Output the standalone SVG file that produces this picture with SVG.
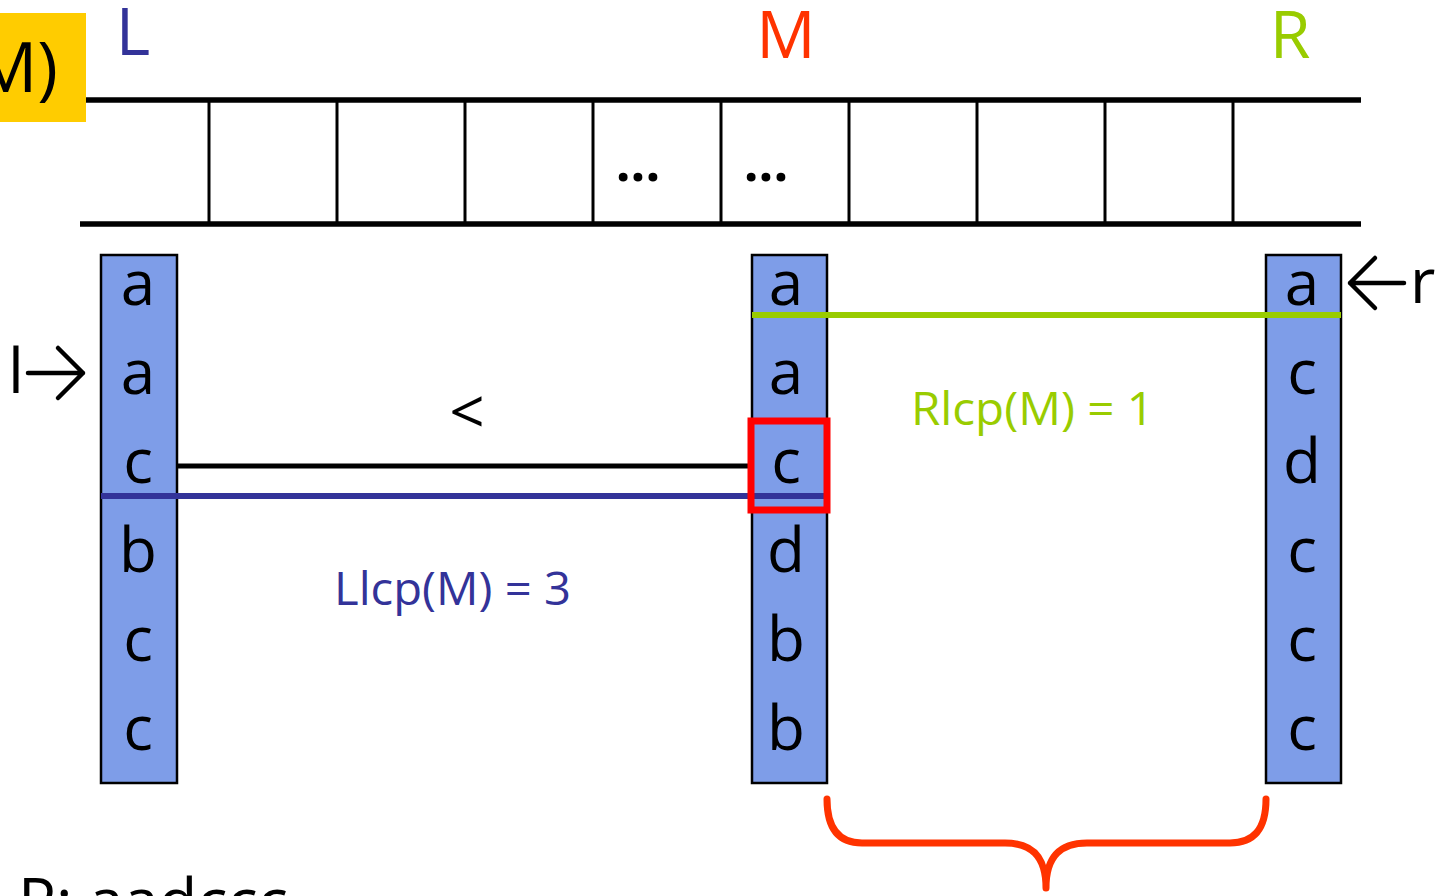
<svg xmlns="http://www.w3.org/2000/svg" width="1441" height="896" viewBox="0 0 1441 896">
<style>
text{font-family:"Open Sans","Noto Sans","Liberation Sans",sans-serif;}
.col{fill:#7E9DE8;stroke:#000;stroke-width:2.5;}
.ch{font-size:62px;fill:#000;text-anchor:middle;}
.grid{stroke:#000;stroke-width:3;}
.hl{stroke:#000;stroke-width:5.5;}
.dots{font-size:52px;font-weight:bold;text-anchor:middle;fill:#000;}
</style>
<rect x="0" y="13" width="86" height="109" fill="#FFCC00"/>
<text x="58" y="92" font-size="70" text-anchor="end" fill="#000">M)</text>
<text x="133" y="55" font-size="66" text-anchor="middle" fill="#333399">L</text>
<text x="786" y="58" font-size="66" text-anchor="middle" fill="#FF3300">M</text>
<text x="1290" y="58" font-size="66" text-anchor="middle" fill="#99CC00">R</text>
<g id="array">
<line class="hl" x1="86" y1="100" x2="1361" y2="100"/>
<line class="hl" x1="80" y1="224" x2="1361" y2="224"/>
<line class="grid" x1="209" y1="100" x2="209" y2="224"/>
<line class="grid" x1="337" y1="100" x2="337" y2="224"/>
<line class="grid" x1="465" y1="100" x2="465" y2="224"/>
<line class="grid" x1="593" y1="100" x2="593" y2="224"/>
<line class="grid" x1="721" y1="100" x2="721" y2="224"/>
<line class="grid" x1="849" y1="100" x2="849" y2="224"/>
<line class="grid" x1="977" y1="100" x2="977" y2="224"/>
<line class="grid" x1="1105" y1="100" x2="1105" y2="224"/>
<line class="grid" x1="1233" y1="100" x2="1233" y2="224"/>
<text class="dots" x="638" y="181">...</text>
<text class="dots" x="766" y="181">...</text>
</g>
<g id="colL">
<rect class="col" x="101" y="255" width="76" height="528"/>
<text class="ch" x="138" y="305">a</text>
<text class="ch" x="138" y="394">a</text>
<text class="ch" x="138" y="483">c</text>
<text class="ch" x="138" y="572">b</text>
<text class="ch" x="138" y="661">c</text>
<text class="ch" x="138" y="750">c</text>
</g>
<g id="colM">
<rect class="col" x="752" y="255" width="75" height="528"/>
<text class="ch" x="786" y="305">a</text>
<text class="ch" x="786" y="394">a</text>
<text class="ch" x="786" y="483">c</text>
<text class="ch" x="786" y="572">d</text>
<text class="ch" x="786" y="661">b</text>
<text class="ch" x="786" y="750">b</text>
</g>
<g id="colR">
<rect class="col" x="1266" y="255" width="75" height="528"/>
<text class="ch" x="1302" y="305">a</text>
<text class="ch" x="1302" y="394">c</text>
<text class="ch" x="1302" y="483">d</text>
<text class="ch" x="1302" y="572">c</text>
<text class="ch" x="1302" y="661">c</text>
<text class="ch" x="1302" y="750">c</text>
</g>
<g id="connectors" fill="none" stroke-linecap="butt">
<line x1="752" y1="315" x2="1341" y2="315" stroke="#99CC00" stroke-width="6"/>
<line x1="177" y1="466" x2="752" y2="466" stroke="#000" stroke-width="5"/>
<line x1="101" y1="496" x2="827" y2="496" stroke="#333399" stroke-width="6"/>
<rect x="751" y="421" width="76" height="89" stroke="#FF0000" stroke-width="7"/>
<path d="M28,373 H83 M58,348 L83,373 L58,398" stroke="#000" stroke-width="4.5" stroke-linecap="round" stroke-linejoin="round"/>
<path d="M1350,283 H1404 M1375,258 L1350,283 L1375,308" stroke="#000" stroke-width="4.5" stroke-linecap="round" stroke-linejoin="round"/>
<path d="M827,799 C827,830 840,843 862,843 L1005,843 C1030,843 1046,855 1046,888 C1046,855 1062,843 1087,843 L1230,843 C1253,843 1266,830 1266,799" stroke="#FF3300" stroke-width="7" stroke-linecap="round" stroke-linejoin="round"/>
</g>
<text x="467" y="434" font-size="62" text-anchor="middle" fill="#000">&lt;</text>
<text x="911" y="425" font-size="46" fill="#99CC00" textLength="243" lengthAdjust="spacingAndGlyphs">Rlcp(M) = 1</text>
<text x="334" y="605" font-size="46" fill="#333399" textLength="237" lengthAdjust="spacingAndGlyphs">Llcp(M) = 3</text>
<text x="8" y="393" font-size="63" fill="#000">l</text>
<text x="1410" y="303" font-size="62" fill="#000">r</text>
<text x="18" y="923" font-size="63" fill="#000">P: aadccc</text>
</svg>
